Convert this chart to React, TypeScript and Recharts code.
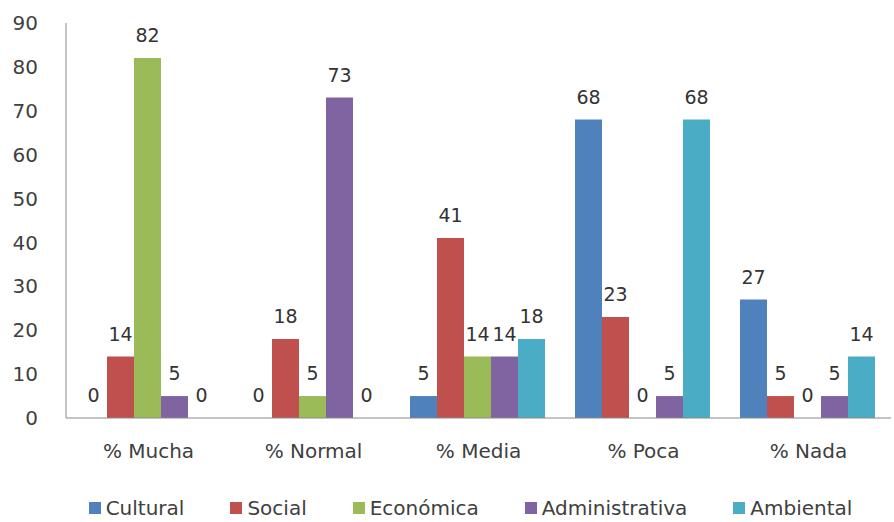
import { Bar, BarChart, XAxis, YAxis, Legend } from 'recharts';

// categories and series
const categories = ['% Mucha', '% Normal', '% Media', '% Poca', '% Nada'];
const cultural = [0, 0, 5, 68, 27];
const social = [14, 18, 41, 23, 5];
const economica = [82, 5, 14, 0, 0];
const administrativa = [5, 73, 14, 5, 5];
const ambiental = [0, 0, 18, 68, 14];
const yTicks = [0, 10, 20, 30, 40, 50, 60, 70, 80, 90];

const series = [
  { key: 'Cultural', values: cultural, color: '#4F81BD' },
  { key: 'Social', values: social, color: '#C0504D' },
  { key: 'Económica', values: economica, color: '#9BBB59' },
  { key: 'Administrativa', values: administrativa, color: '#8064A2' },
  { key: 'Ambiental', values: ambiental, color: '#4BACC6' },
];

const data = categories.map((name, i) => {
  const row: Record<string, string | number> = { name };
  series.forEach((s) => {
    row[s.key] = s.values[i];
  });
  return row;
});

const font = '"DejaVu Sans", sans-serif';

// value above every bar, zeros included
const renderLabel = (props: any) => {
  const { x, y, width, value } = props;
  return (
    <text
      x={x + width / 2}
      y={y - 16}
      textAnchor="middle"
      fill="#333333"
      fontSize={19}
      fontFamily={font}
    >
      {value}
    </text>
  );
};

// zero bars still need a (hair-thin) rect so their "0" label gets drawn
const tinyForZero = (value: any) => (value === 0 ? 0.01 : 0);

const LegendRow = () => (
  <div
    style={{
      display: 'flex',
      justifyContent: 'center',
      gap: 46,
      fontSize: 20,
      fontFamily: font,
      color: '#404040',
      paddingLeft: 50,
    }}
  >
    {series.map((s) => (
      <span key={s.key} style={{ display: 'flex', alignItems: 'center' }}>
        <span style={{ width: 12, height: 12, background: s.color, marginRight: 5 }} />
        {s.key}
      </span>
    ))}
  </div>
);

export default function App() {
  return (
    <div style={{ position: 'absolute', left: 0, top: 0, background: '#fff', fontFamily: font }}>
      <BarChart
        width={894}
        height={522}
        data={data}
        margin={{ top: 23, right: 3, left: 0, bottom: 2 }}
        barCategoryGap={14}
        barGap={0}
      >
        <XAxis
          dataKey="name"
          height={78}
          stroke="#888888"
          tickLine={false}
          tickMargin={20}
          tick={{ fill: '#404040', fontSize: 20, fontFamily: font }}
        />
        <YAxis
          width={66}
          domain={[0, 90]}
          ticks={yTicks}
          interval={0}
          stroke="#888888"
          tickLine={false}
          tickMargin={22}
          tick={{ fill: '#404040', fontSize: 20, fontFamily: font }}
        />
        <Legend verticalAlign="bottom" content={<LegendRow />} />
        {series.map((s) => (
          <Bar
            key={s.key}
            dataKey={s.key}
            fill={s.color}
            isAnimationActive={false}
            minPointSize={tinyForZero}
            label={renderLabel}
          />
        ))}
      </BarChart>
    </div>
  );
}
